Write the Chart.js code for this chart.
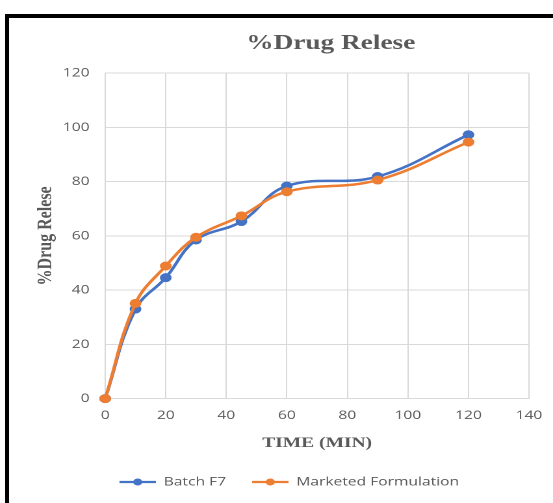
<!DOCTYPE html>
<html>
<head>
<meta charset="utf-8">
<title>%Drug Relese</title>
<script src="https://cdn.jsdelivr.net/npm/chart.js@4.4.1/dist/chart.umd.min.js"></script>
<style>
  html, body { margin: 0; padding: 0; background: #fff; overflow: hidden; }
  body { width: 553px; height: 503px; position: relative; }
  .frame {
    position: absolute; left: 5px; top: 14px;
    width: 800px; height: 600px;
    border: 4px solid #000;
  }
  #releaseChart {
    position: absolute; left: 0; top: 0;
    width: 495px; height: 485px;
    transform: scaleX(1.3); transform-origin: 0 0;
  }
</style>
</head>
<body>
<div class="frame"><canvas id="releaseChart" width="495" height="485"></canvas></div>
<script>
const times = [0, 10, 20, 30, 45, 60, 90, 120];
const batchF7 = [0, 33, 44.6, 58.5, 65.3, 78.4, 81.9, 97.3];
const marketed = [0, 35.1, 48.9, 59.5, 67.4, 76.3, 80.6, 94.6];
const seriesNames = ["Batch F7", "Marketed Formulation"];
const seriesColors = ["#4472C4", "#ED7D31"];
const xTicks = [0, 20, 40, 60, 80, 100, 120, 140];
const yTicks = [0, 20, 40, 60, 80, 100, 120];

const TEXT = "#595959";
const GRID = "#d9d9d9";
const SERIF = '"Liberation Serif", "Times New Roman", serif';
const SANS = '"Open Sans", "Noto Sans", sans-serif';

// line-with-dot legend swatch, drawn at 2x and shown at 28x10
function makeMarker(color) {
  return new Promise(resolve => {
    const c = document.createElement("canvas");
    c.width = 56; c.height = 20;
    const g = c.getContext("2d");
    g.strokeStyle = color;
    g.lineWidth = 4.5;
    g.beginPath(); g.moveTo(0, 10); g.lineTo(56, 10); g.stroke();
    g.fillStyle = color;
    g.beginPath(); g.arc(28, 10, 7, 0, Math.PI * 2); g.fill();
    const img = new Image();
    img.onload = () => { img.width = 28; img.height = 10; resolve(img); };
    img.src = c.toDataURL();
  });
}

// title spans the whole canvas, legend sits under the left part of the plot
const boxShift = {
  id: "boxShift",
  afterLayout(chart) {
    const t = chart.titleBlock;
    t.left = 0;
    t.right = chart.width;
    const l = chart.legend;
    const w = l.right - l.left;
    l.left = 65;
    l.right = 65 + w;
  }
};

function points(values) {
  return times.map((t, i) => ({ x: t, y: values[i] }));
}

function fixedTicks(list) {
  return axis => { axis.ticks = list.map(v => ({ value: v })); };
}

async function renderChart() {
  const markers = await Promise.all(seriesColors.map(makeMarker));
  const series = [batchF7, marketed];

  new Chart(document.getElementById("releaseChart"), {
    type: "line",
    data: {
      datasets: series.map((values, i) => ({
        label: seriesNames[i],
        data: points(values),
        borderColor: seriesColors[i],
        backgroundColor: seriesColors[i],
        pointBackgroundColor: seriesColors[i],
        pointBorderColor: seriesColors[i],
        borderWidth: 2.5,
        pointRadius: 4,
        pointBorderWidth: 1,
        tension: 0.4,
        fill: false,
        clip: false,
        // later series painted over earlier ones
        order: series.length - i
      }))
    },
    options: {
      responsive: false,
      animation: false,
      devicePixelRatio: 2,
      layout: { padding: { left: 0, right: 95, top: 0, bottom: 5 } },
      plugins: {
        title: {
          display: true,
          text: "%Drug Relese",
          color: TEXT,
          font: { family: SERIF, size: 21, weight: "bold" },
          padding: { top: 13, bottom: 17 }
        },
        legend: {
          position: "bottom",
          align: "start",
          labels: {
            usePointStyle: true,
            pointStyleWidth: 28,
            boxHeight: 10,
            padding: 20,
            color: TEXT,
            font: { family: SANS, size: 12 },
            sort: (a, b) => a.datasetIndex - b.datasetIndex,
            generateLabels(chart) {
              return Chart.defaults.plugins.legend.labels.generateLabels(chart)
                .map(item => ({ ...item, pointStyle: markers[item.datasetIndex] }));
            }
          }
        },
        tooltip: { enabled: false }
      },
      scales: {
        x: {
          type: "linear",
          min: 0,
          max: 140,
          afterBuildTicks: fixedTicks(xTicks),
          grid: { color: GRID, drawTicks: false },
          border: { color: GRID },
          ticks: { color: TEXT, font: { family: SANS, size: 12 }, padding: 10 },
          title: {
            display: true,
            text: "TIME (MIN)",
            color: TEXT,
            font: { family: SERIF, size: 15, weight: "bold" },
            padding: { top: 1, bottom: 4 }
          }
        },
        y: {
          min: 0,
          max: 120,
          afterBuildTicks: fixedTicks(yTicks),
          afterFit: scale => { scale.width = 74; },
          grid: { color: GRID, drawTicks: false },
          border: { color: GRID },
          ticks: { color: TEXT, font: { family: SANS, size: 12 }, padding: 12 },
          title: {
            display: true,
            text: "%Drug Relese",
            color: TEXT,
            font: { family: SERIF, size: 16, weight: "bold" },
            padding: { top: 19, bottom: 0 }
          }
        }
      }
    },
    plugins: [boxShift]
  });
}

document.addEventListener("DOMContentLoaded", renderChart);
</script>
</body>
</html>
